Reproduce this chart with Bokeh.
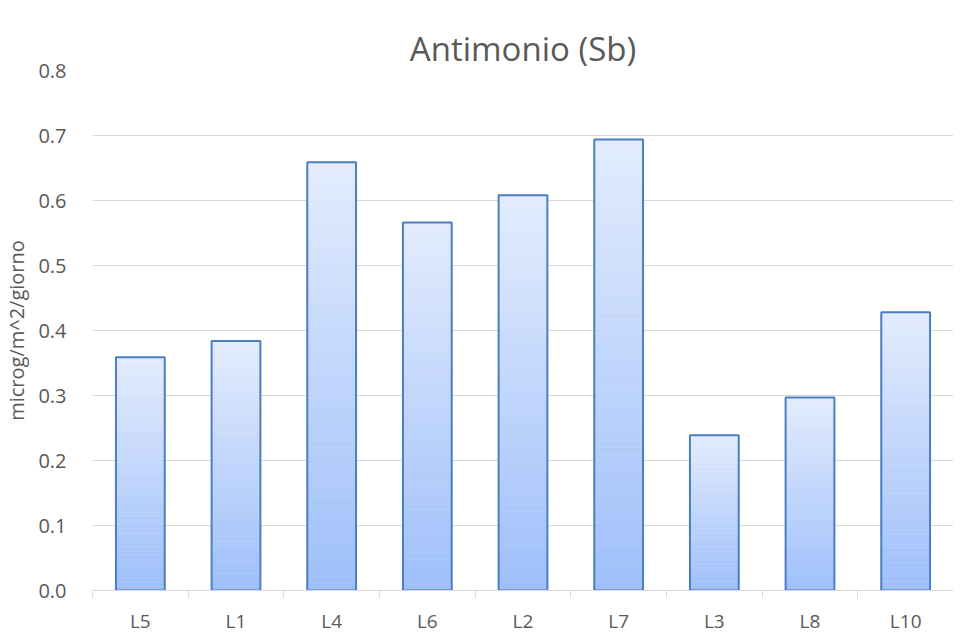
from bokeh.plotting import figure
from bokeh.models import (Range1d, LinearAxis, FixedTicker, NumeralTickFormatter, ColumnDataSource)
from bokeh.embed import file_html
from bokeh.resources import INLINE

categories = ["L5", "L1", "L4", "L6", "L2", "L7", "L3", "L8", "L10"]
values = [0.359, 0.384, 0.659, 0.566, 0.608, 0.694, 0.239, 0.297, 0.428]
y_ticks = [0.0, 0.1, 0.2, 0.3, 0.4, 0.5, 0.6, 0.7, 0.8]

FONT = "Open Sans"
GRAY = "#595959"
TOP = (227, 236, 253)
BOT = (158, 191, 250)
EDGE = "#4A7EC1"

n = len(categories)
centers = [i + 0.5 for i in range(n)]
bounds = [float(i) for i in range(n + 1)]

p = figure(width=953, height=636, x_range=Range1d(0, n),
           y_range=Range1d(0, 0.8), output_backend="svg", toolbar_location=None,
           title="Antimonio (Sb)", min_border_left=86, min_border_right=0,
           min_border_top=70, min_border_bottom=0, x_axis_location=None)
p.title.align = "center"
p.title.text_font = FONT
p.title.text_font_size = "33px"
p.title.text_font_style = "normal"
p.title.text_color = GRAY
p.title.standoff = 0
p.outline_line_color = None

# spacer between title and plot area (axis with no ticks or labels)
spacer = LinearAxis(ticker=FixedTicker(ticks=[]), axis_line_color=None,
                    major_tick_line_color="#ffffff", minor_tick_line_color=None,
                    major_tick_in=0, major_tick_out=28, minor_tick_in=0, minor_tick_out=0,
                    major_label_standoff=0)
p.add_layout(spacer, "above")

# gradient slices
N = 60
xs, bots, tops, cols = [], [], [], []
for c, v in zip(centers, values):
    for i in range(N):
        f = (i + 0.5) / N
        r = round(BOT[0] + (TOP[0] - BOT[0]) * f)
        g = round(BOT[1] + (TOP[1] - BOT[1]) * f)
        b = round(BOT[2] + (TOP[2] - BOT[2]) * f)
        xs.append(c)
        bots.append(v * i / N)
        tops.append(v * (i + 1) / N)
        cols.append("#%02x%02x%02x" % (r, g, b))
src = ColumnDataSource(dict(x=xs, bottom=bots, top=tops, color=cols))
p.vbar(x="x", bottom="bottom", top="top", width=0.51, source=src,
       fill_color="color", line_color="color", line_width=0.5)
p.vbar(x=centers, top=values, width=0.51, fill_color=None,
       line_color=EDGE, line_width=2)

# y axis
p.yaxis.ticker = FixedTicker(ticks=y_ticks)
p.yaxis.formatter = NumeralTickFormatter(format="0.0")
p.yaxis.axis_line_color = None
p.yaxis.major_tick_line_color = None
p.yaxis.minor_tick_line_color = None
p.yaxis.major_label_text_font = FONT
p.yaxis.major_label_text_font_size = "20px"
p.yaxis.major_label_text_color = GRAY
p.yaxis.major_label_standoff = 20
p.yaxis.axis_label = "microg/m^2/giorno"
p.yaxis.axis_label_text_font = FONT
p.yaxis.axis_label_text_font_size = "20px"
p.yaxis.axis_label_text_font_style = "normal"
p.yaxis.axis_label_text_color = GRAY
p.yaxis.axis_label_standoff = 5

p.ygrid.ticker = FixedTicker(ticks=y_ticks)
p.ygrid.grid_line_color = "#D9D9D9"
p.ygrid.grid_line_width = 1
p.xgrid.grid_line_color = None

# category axis: labels at centres, tick marks at boundaries (minor ticks)
x_axis = LinearAxis(ticker=FixedTicker(ticks=centers, minor_ticks=bounds),
                    major_label_overrides={c: lab for c, lab in zip(centers, categories)},
                    axis_line_color="#D9D9D9", major_tick_line_color=None,
                    minor_tick_line_color="#D9D9D9", minor_tick_in=0, minor_tick_out=7,
                    major_label_text_font=FONT, major_label_text_font_size="19px",
                    major_label_text_color=GRAY, major_label_standoff=10)
p.add_layout(x_axis, "below")

open("out.html", "w").write(file_html(p, INLINE))
